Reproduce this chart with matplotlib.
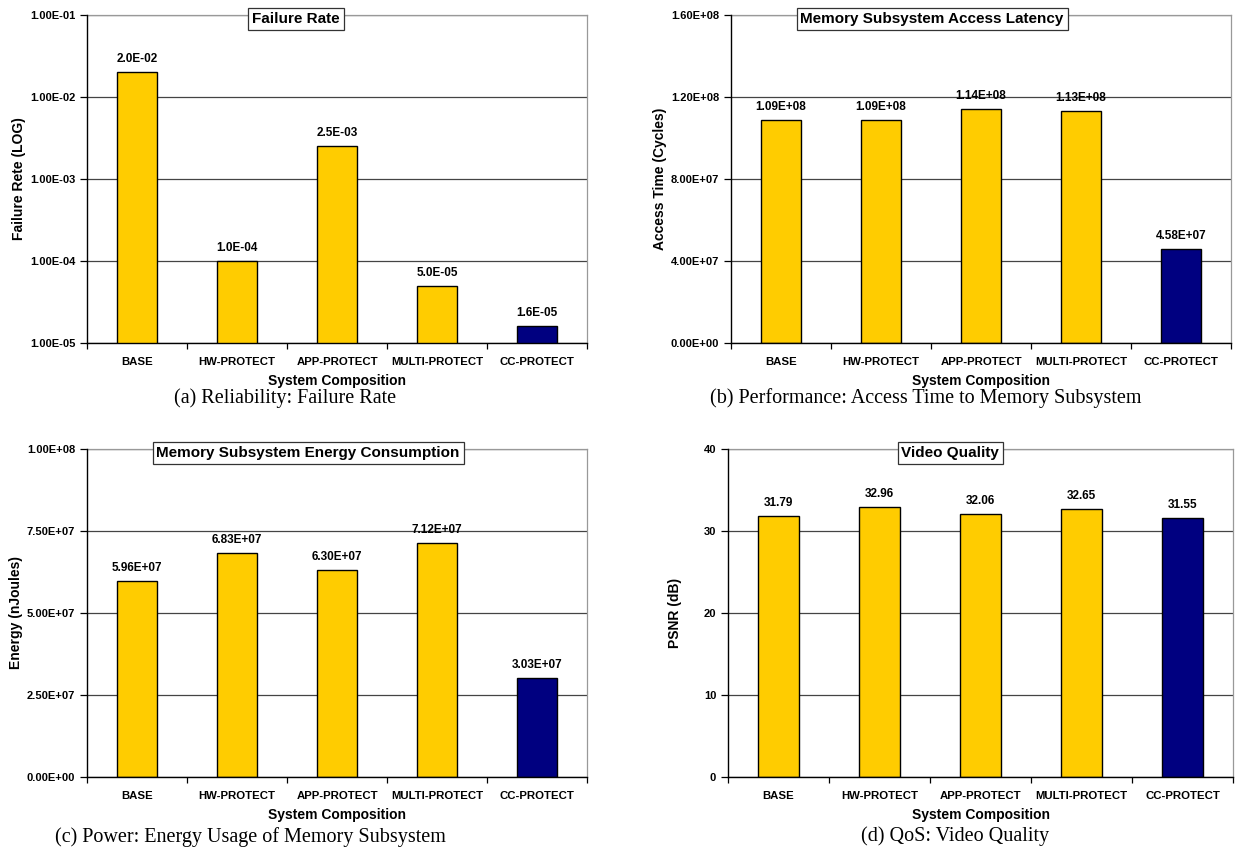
import numpy as np
import matplotlib
matplotlib.use('Agg')
import matplotlib.pyplot as plt
from matplotlib.ticker import FixedLocator, FuncFormatter, NullLocator

plt.rcParams['font.family'] = ['Liberation Sans', 'DejaVu Sans']

# data
categories = ['BASE', 'HW-PROTECT', 'APP-PROTECT', 'MULTI-PROTECT', 'CC-PROTECT']
failure_rate = [2.0e-2, 1.0e-4, 2.5e-3, 5.0e-5, 1.6e-5]
access_time = [1.089e8, 1.086e8, 1.14e8, 1.13e8, 4.58e7]
energy = [5.96e7, 6.83e7, 6.30e7, 7.12e7, 3.03e7]
psnr = [31.79, 32.96, 32.06, 32.65, 31.55]

titles = ['Failure Rate', 'Memory Subsystem Access Latency',
          'Memory Subsystem Energy Consumption', 'Video Quality']
ylabels = ['Failure Rete (LOG)', 'Access Time (Cycles)', 'Energy (nJoules)', 'PSNR (dB)']
captions = ['(a) Reliability: Failure Rate',
            '(b) Performance: Access Time to Memory Subsystem',
            '(c) Power: Energy Usage of Memory Subsystem',
            '(d) QoS: Video Quality']

yellow = '#FFCC00'
navy = '#000080'
colors = [yellow, yellow, yellow, yellow, navy]

fig = plt.figure(figsize=(12.35, 8.5), dpi=100)

# axes boxes [left, bottom, width, height] in figure fraction
boxes = [[0.0704, 0.5965, 0.405, 0.386],
         [0.5919, 0.5965, 0.405, 0.386],
         [0.0704, 0.0859, 0.405, 0.386],
         [0.5895, 0.0859, 0.409, 0.386]]
title_x = [0.418, 0.402, 0.442, 0.44]
caption_pos = [(0.231, 0.532), (0.750, 0.532), (0.203, 0.0155), (0.773, 0.0165)]

datasets = [failure_rate, access_time, energy, psnr]
ylims = [(1e-5, 1e-1), (0, 1.6e8), (0, 1e8), (0, 40)]
yticks = [[1e-5, 1e-4, 1e-3, 1e-2, 1e-1],
          np.arange(0, 1.6e8 + 1, 4e7),
          np.arange(0, 1e8 + 1, 2.5e7),
          np.arange(0, 41, 10)]
tick_fmt = [lambda v, p: f'{v:.2E}',
            lambda v, p: f'{v:.2E}',
            lambda v, p: f'{v:.2E}',
            lambda v, p: f'{v:.0f}']
val_fmt = [lambda v: f'{v:.1E}',
           lambda v: f'{v:.2E}',
           lambda v: f'{v:.2E}',
           lambda v: f'{v:.2f}']
ylabel_pad = [3, 3, 3, 16]

x = np.arange(len(categories))

for i in range(4):
    ax = fig.add_axes(boxes[i])
    vals = datasets[i]
    if i == 0:
        ax.set_yscale('log')
    ax.bar(x, vals, width=0.4, color=colors, edgecolor='black', linewidth=1.0, zorder=3)
    for xi, v in zip(x, vals):
        ax.annotate(val_fmt[i](v), (xi, v), xytext=(0, 5), textcoords='offset points',
                    ha='center', va='bottom', fontsize=8.5, fontweight='bold')

    ax.set_xlim(-0.5, len(categories) - 0.5)
    ax.set_ylim(*ylims[i])
    ax.yaxis.set_major_locator(FixedLocator(yticks[i]))
    ax.yaxis.set_minor_locator(NullLocator())
    ax.yaxis.set_major_formatter(FuncFormatter(tick_fmt[i]))
    ax.grid(axis='y', color='#444444', linewidth=0.9, zorder=0)

    # category labels at centres, tick marks at the boundaries
    ax.set_xticks(x)
    ax.set_xticklabels(categories)
    ax.set_xticks(np.arange(-0.5, len(categories)), minor=True)
    ax.tick_params(axis='x', which='major', length=0, pad=10, labelsize=8.2)
    ax.tick_params(axis='x', which='minor', length=4, width=0.9, direction='out')
    ax.tick_params(axis='y', length=5, width=0.9, direction='out', labelsize=8)
    for lab in ax.get_xticklabels() + ax.get_yticklabels():
        lab.set_fontweight('bold')

    for s in ['left', 'bottom']:
        ax.spines[s].set_color('black')
        ax.spines[s].set_linewidth(1.0)
        ax.spines[s].set_zorder(4)
    for s in ['top', 'right']:
        ax.spines[s].set_color('#999999')
        ax.spines[s].set_linewidth(0.9)

    ax.set_xlabel('System Composition', fontsize=10, fontweight='bold', labelpad=5)
    ax.set_ylabel(ylabels[i], fontsize=10, fontweight='bold', labelpad=ylabel_pad[i])

    ax.text(title_x[i], 0.987, titles[i], transform=ax.transAxes, ha='center', va='center',
            fontsize=11, fontweight='bold', zorder=6,
            bbox=dict(boxstyle='square,pad=0.25', facecolor='white', edgecolor='#333333',
                      linewidth=0.9))

    fig.text(caption_pos[i][0], caption_pos[i][1], captions[i], ha='center', va='center',
             fontsize=14.5, family='Liberation Serif')

fig.savefig('out.png', dpi=100)
